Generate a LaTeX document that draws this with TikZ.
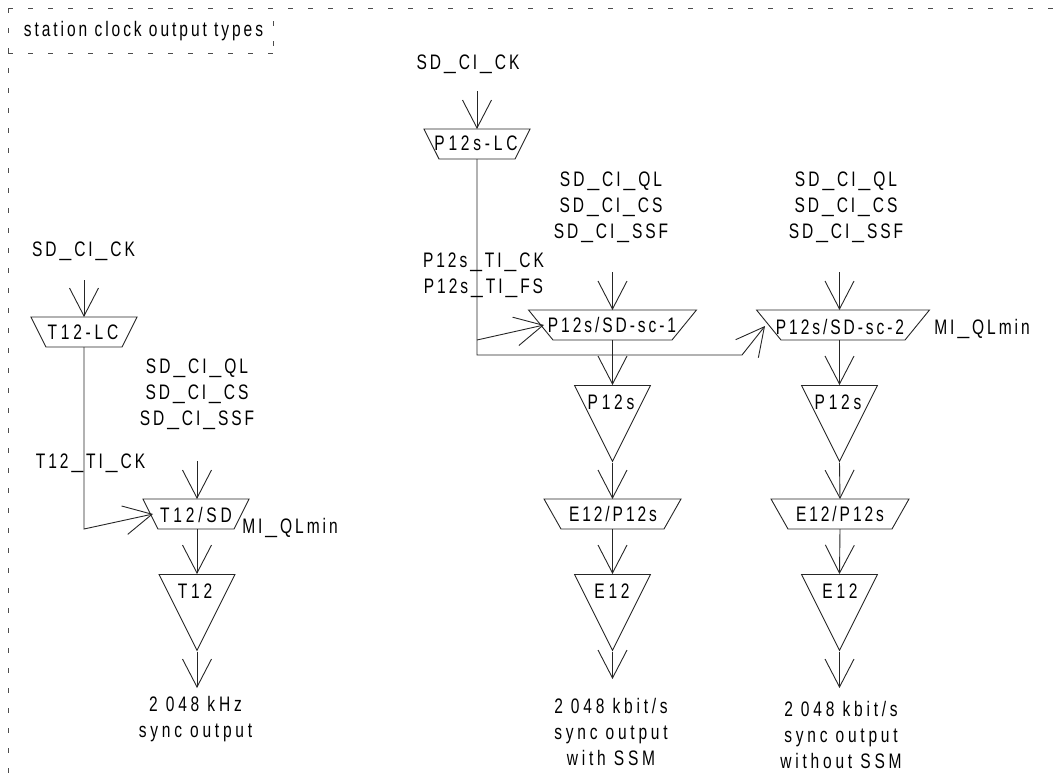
\documentclass[tikz,border=0pt]{standalone}
\usepackage{fontspec}
\setmainfont[LetterSpace=14,FakeStretch=0.74]{Liberation Sans}
\newfontfamily\usfont{Liberation Sans}
\usetikzlibrary{arrows.meta,shapes.geometric}
\newcommand{\usc}{\hspace{3pt}{\usfont\_}\hspace{3pt}}
\tikzset{
 x=1pt,y=-1pt,
 line/.style={draw=black!85,line width=0.9pt},
 conn/.style={line,-{Straight Barb[length=28pt,width=29pt,line width=0.9pt]}},
 trap/.style={trapezium,draw=black!85,line width=0.9pt,shape border rotate=180,inner sep=0pt,outer sep=0pt,text height=30pt,text depth=0pt,minimum width=1pt,minimum height=1pt},
 tri/.style={isosceles triangle,isosceles triangle stretches=true,draw=black!85,line width=0.9pt,shape border rotate=-90,inner sep=0pt,minimum width=76pt,minimum height=76pt,anchor=lower side},
 lab/.style={inner sep=0pt,align=center,font=\fontsize{21}{26}\selectfont},
 wlab/.style={lab,font=\fontsize{21}{26}\selectfont\addfontfeature{LetterSpace=18}},
 frame/.style={draw=black!70,line width=0.9pt,dash pattern=on 5pt off 15pt}
}
\begin{document}
\begin{tikzpicture}
\useasboundingbox (0,0) rectangle (1055,780);
% frame
\coordinate (fo) at (8,8); \coordinate (fa) at (1055,8); \coordinate (fc) at (8,780);
\draw[frame] (fo) -- (fa);
\draw[frame] (fo) -- (fc);
\coordinate (fd) at (8,53); \coordinate (fe) at (273,53); \coordinate (ff) at (273,8);
\draw[frame] (fd) -- (fe);
\draw[frame,dash phase=7pt] (ff) -- (fe);
\node[lab] (title) at (143.5,31) {station clock output types};
% left column
\node[trap,trapezium angle=63.4,text width=76pt] (tlc) at (84,332) {};
\node[wlab] (tlct) at (83,332) {T12-LC};
\node[trap,trapezium angle=63.4,text width=76pt] (tsd) at (196,514) {};
\node[wlab] (tsdt) at (196,515) {T12/SD};
\node[tri] (t12) at (197,574) {};
\node[wlab] (t12t) at (195,591) {T12};
\coordinate (a1) at (84,280);
\coordinate (a2) at (197,461);
\coordinate (a3) at (197,688);
\coordinate (a4) at (84,529);
\coordinate (a5) at (153,514);
\draw[conn] (a1) -- (tlc.north);
\draw[conn] (a2) -- (a2 |- tsd.north);
\draw[conn] (a2 |- tsd.south) -- (t12.lower side);
\draw[conn] (t12.apex) -- (a3);
\draw[conn] (tlc.south) -- (a4) -- (a5);
\node[lab] (l1) at (83.5,251) {SD\usc CI\usc CK};
\node[lab] (l2) at (197,394) {SD\usc CI\usc QL\\SD\usc CI\usc CS\\SD\usc CI\usc SSF};
\node[lab] (l3) at (90.5,463) {T12\usc TI\usc CK};
\node[lab] (l4) at (290,528) {MI\usc QLmin};
\node[wlab] (l5) at (195.5,719) {2 048 kHz\\sync output};
% centre column
\node[trap,trapezium angle=63.4,text width=76pt] (plc) at (477,144) {};
\node[wlab] (plct) at (476,143) {P12s-LC};
\node[trap,trapezium angle=50.8,text width=119pt] (s1) at (612.5,325) {};
\node[lab] (s1t) at (612,325) {P12s/SD-sc-1};
\node[tri] (p1) at (612.5,385) {};
\node[wlab] (p1t) at (611,402) {P12s};
\node[trap,trapezium angle=60.5,text width=103pt] (e1) at (612.5,514) {};
\node[lab] (e1t) at (613,514) {E12/P12s};
\node[tri] (x1) at (612.5,574) {};
\node[wlab] (x1t) at (612,591) {E12};
\coordinate (b1) at (477,91);
\coordinate (b2) at (612.5,272);
\coordinate (b3) at (612.5,679);
\coordinate (j1) at (477,340);
\coordinate (j2) at (477,355);
\coordinate (j3) at (742,355);
\coordinate (k1) at (544,325);
\coordinate (k2) at (765,326);
\draw[conn] (b1) -- (plc.north);
\draw[conn] (b2) -- (s1.north);
\draw[conn] (s1.south) -- (p1.lower side);
\draw[conn] (p1.apex) -- (e1.north);
\draw[conn] (e1.south) -- (x1.lower side);
\draw[conn] (x1.apex) -- (b3);
\draw[conn] (j1) -- (k1);
\draw[conn] (plc.south) -- (j2) -- (j3) -- (k2);
\node[lab] (m1) at (468,64) {SD\usc CI\usc CK};
\node[lab] (m2) at (611,207.5) {SD\usc CI\usc QL\\SD\usc CI\usc CS\\SD\usc CI\usc SSF};
\node[lab] (m3) at (483.5,275.5) {P12s\usc TI\usc CK\\P12s\usc TI\usc FS};
\node[wlab] (m4) at (611,731.5) {2 048 kbit/s\\sync output\\with SSM};
% right column
\node[trap,trapezium angle=50.8,text width=124pt] (s2) at (843,325) {};
\node[lab] (s2t) at (840,327) {P12s/SD-sc-2};
\node[tri] (p2) at (839.5,385) {};
\node[wlab] (p2t) at (838,402) {P12s};
\node[trap,trapezium angle=60.5,text width=104pt] (e2) at (840,514) {};
\node[lab] (e2t) at (840,514) {E12/P12s};
\node[tri] (x2) at (839.5,574) {};
\node[wlab] (x2t) at (840,591) {E12};
\coordinate (c2) at (839.5,272);
\coordinate (c3) at (839.5,688);
\draw[conn] (c2) -- (c2 |- s2.north);
\draw[conn] (c2 |- s2.south) -- (p2.lower side);
\draw[conn] (p2.apex) -- (e2.north);
\draw[conn] (e2.south) -- (x2.lower side);
\draw[conn] (x2.apex) -- (c3);
\node[lab] (r2) at (846,207.5) {SD\usc CI\usc QL\\SD\usc CI\usc CS\\SD\usc CI\usc SSF};
\node[lab] (r4) at (982,329) {MI\usc QLmin};
\node[wlab] (r5) at (841,735) {2 048 kbit/s\\sync output\\without SSM};
\end{tikzpicture}
\end{document}
